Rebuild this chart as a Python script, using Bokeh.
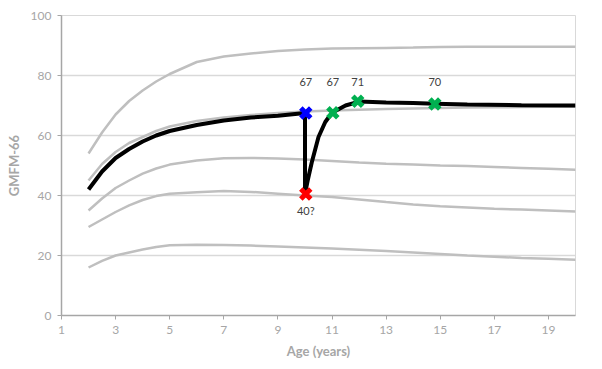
from bokeh.plotting import figure
from bokeh.models import ColumnDataSource, FixedTicker, Range1d
from bokeh.core.properties import value
from bokeh.embed import file_html
from bokeh.resources import INLINE

# Reference percentile curves (age in years, GMFM-66)
ref_ages = [2, 2.5, 3, 3.5, 4, 4.5, 5, 6, 7, 8, 9, 10, 11, 12, 13, 14, 15, 16, 17, 18, 19, 20]
p90 = [54, 61, 67, 71.5, 75, 78, 80.5, 84.5, 86.3, 87.3, 88.2, 88.7, 89, 89.1, 89.2, 89.3, 89.5, 89.6, 89.6, 89.6, 89.6, 89.6]
p75 = [45, 50.5, 54.5, 57.5, 59.5, 61.5, 63, 64.8, 66, 66.8, 67.5, 68, 68.3, 68.6, 68.8, 69, 69.2, 69.3, 69.4, 69.5, 69.6, 69.7]
p50 = [35, 39, 42.5, 45, 47.3, 49, 50.3, 51.7, 52.4, 52.5, 52.3, 52, 51.5, 51, 50.6, 50.3, 50, 49.8, 49.5, 49.2, 48.9, 48.6]
p25 = [29.5, 32, 34.5, 36.7, 38.5, 39.8, 40.6, 41.1, 41.5, 41.2, 40.6, 40, 39.5, 38.7, 37.8, 37, 36.4, 36, 35.6, 35.3, 35, 34.7]
p10 = [16, 18.2, 20, 21, 22, 22.8, 23.4, 23.6, 23.5, 23.3, 23, 22.7, 22.3, 21.9, 21.5, 21, 20.5, 20, 19.6, 19.2, 18.9, 18.6]

# Individual child trajectory
child_ages = [2, 2.5, 3, 3.5, 4, 4.5, 5, 6, 7, 8, 9, 10, 10, 10.1, 10.25, 10.5, 10.75, 11, 11.5, 12, 13, 14, 14.8, 16, 18, 20]
child_vals = [42, 48, 52.5, 55.5, 58, 60, 61.5, 63.5, 65, 66, 66.6, 67.5, 40.5, 45, 51, 59.5, 64.5, 67.6, 70, 71.3, 71, 70.8, 70.6, 70.3, 70.1, 70]

# Marked assessments
mark_ages = [10.03, 10.03, 11.03, 11.95, 14.8]
mark_vals = [67.5, 40.5, 67.6, 71.4, 70.5]
mark_colors = ["#0000ff", "#ff0000", "#00b050", "#00b050", "#00b050"]
label_texts = ["67", "40?", "67", "71", "70"]
label_vals = [78, 35, 78, 78, 78]

x_ticks = [1, 3, 5, 7, 9, 11, 13, 15, 17, 19]
y_ticks = [0, 20, 40, 60, 80, 100]

p = figure(width=595, height=365, output_backend="svg", toolbar_location=None,
           x_range=Range1d(1, 20), y_range=Range1d(0, 100),
           min_border_left=61, min_border_right=20, min_border_top=15, min_border_bottom=50)
p.background_fill_color = "white"
p.border_fill_color = "white"
p.outline_line_color = "#d9d9d9"
p.outline_line_width = 1

grey = "#bfbfbf"
for series in [p90, p75, p50, p25, p10]:
    p.line(ref_ages, series, line_color=grey, line_width=2.5)

p.line(child_ages, child_vals, line_color="black", line_width=4)

src = ColumnDataSource(dict(x=mark_ages, y=mark_vals, c=mark_colors))
p.scatter("x", "y", source=src, marker="x", size=14, line_color="c", line_width=5)

lsrc = ColumnDataSource(dict(x=mark_ages, y=label_vals, t=label_texts))
p.text("x", "y", text="t", source=lsrc, text_align="center", text_baseline="middle",
       text_font=value("Lato"), text_font_size="11px", text_color="#404040")

# axes
for ax in (p.xaxis[0], p.yaxis[0]):
    ax.axis_line_color = "#a6a6a6"
    ax.axis_line_width = 1.5
    ax.major_tick_line_color = "#a6a6a6"
    ax.major_tick_out = 4
    ax.major_tick_in = 0
    ax.minor_tick_line_color = None
    ax.major_label_text_color = "#a6a6a6"
    ax.major_label_text_font = "Lato"
    ax.major_label_text_font_size = "12px"
    ax.axis_label_text_color = "#a6a6a6"
    ax.axis_label_text_font = "Lato"
    ax.axis_label_text_font_style = "bold"
    ax.axis_label_text_font_size = "13px"

p.xaxis.ticker = FixedTicker(ticks=x_ticks)
p.yaxis.ticker = FixedTicker(ticks=y_ticks)
p.xaxis.axis_label = "Age (years)"
p.yaxis.axis_label = "GMFM-66"
p.xaxis.major_label_standoff = 6
p.xaxis.axis_label_standoff = 6
p.yaxis.major_label_standoff = 6
p.yaxis.axis_label_standoff = 6

p.xgrid.grid_line_color = None
p.ygrid.grid_line_color = "#d9d9d9"
p.ygrid.grid_line_width = 1.5

open("out.html", "w").write(file_html(p, INLINE))
